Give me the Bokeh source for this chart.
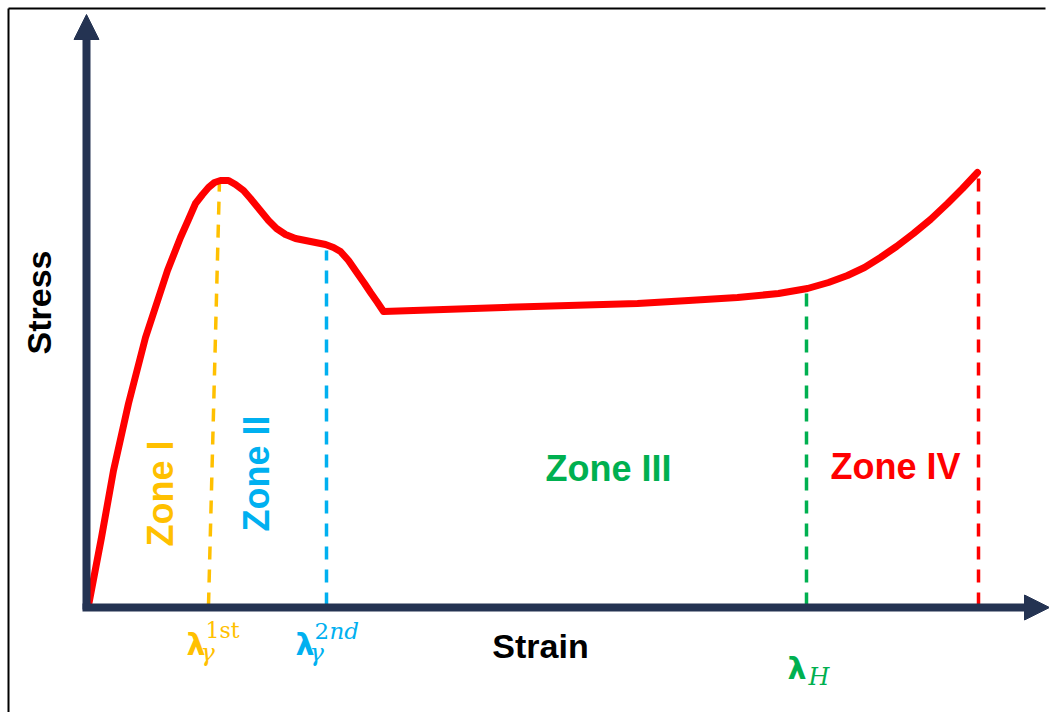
from bokeh.plotting import figure
from bokeh.models import Range1d, Arrow, NormalHead, ColumnDataSource
from bokeh.core.properties import value
from bokeh.embed import file_html
from bokeh.resources import INLINE
import math

# Schematic stress-strain curve (arbitrary units)
strain = [0, 13, 25, 40, 57, 79, 92, 100, 107, 114, 120, 126, 132,
          140, 147, 155, 162, 171, 180, 188, 197, 207, 217, 227, 237, 245, 252,
          260, 269, 276, 282, 289, 295,
          355, 415, 480, 549, 600, 649, 690, 719, 740, 759, 776, 792, 808, 825,
          842, 859, 874, 889]
stress = [0, 68, 135, 202, 268, 335, 368, 386, 402, 411, 418, 423, 425,
          425, 421, 415, 407, 396, 385, 377, 371, 367, 365, 363, 361, 358, 354,
          345, 332, 322, 313, 303, 294,
          296, 298, 300, 302, 305, 308, 312, 317, 323, 330, 338, 348, 359, 372,
          386, 402, 417, 433]

# Characteristic strains marking the zone boundaries
lam_strain = [120, 238, 718, 890]
lam_top_strain = [131, 238, 718, 890]
lam_stress = [425, 355, 316, 430]
lam_colors = ["#FFC000", "#00B0F0", "#00B050", "#FF0000"]

zone_names = ["Zone I", "Zone II", "Zone III", "Zone IV"]
zone_x = [72, 168, 520, 807]
zone_y = [112, 132, 137, 139]
zone_angle = [math.pi / 2, math.pi / 2, 0, 0]

AXIS = "#243352"

p = figure(width=1049, height=712, output_backend="svg", toolbar_location=None,
           x_range=Range1d(-88, 961), y_range=Range1d(-107, 605), min_border=0)
p.axis.visible = False
p.grid.visible = False
p.outline_line_color = None
p.background_fill_color = "white"
p.border_fill_color = "white"

# outer frame
p.line([-80, -80], [-110, 597], line_color="black", line_width=2)
p.line([-80, 957], [597, 597], line_color="black", line_width=2)

# vertical dashed markers
for xs0, xs1, ys, c in zip(lam_strain, lam_top_strain, lam_stress, lam_colors):
    p.line([xs0, xs1], [0, ys], line_color=c, line_width=3.5, line_dash="13 10")

# axes with arrow heads
p.add_layout(Arrow(end=NormalHead(size=25, fill_color=AXIS, line_color=AXIS),
                   x_start=-2, y_start=-4, x_end=-2, y_end=591,
                   line_color=AXIS, line_width=8))
p.add_layout(Arrow(end=NormalHead(size=25, fill_color=AXIS, line_color=AXIS),
                   x_start=-6, y_start=-2, x_end=961, y_end=-2,
                   line_color=AXIS, line_width=8))

# stress-strain curve
p.line(strain, stress, line_color="#FF0000", line_width=7, line_join="round", line_cap="round")

# zone labels
src = ColumnDataSource(dict(x=zone_x, y=zone_y, t=zone_names, c=lam_colors, a=zone_angle))
p.text("x", "y", text="t", angle="a", source=src, text_color="c",
       text_font=value("Liberation Sans"), text_font_style="bold",
       text_font_size="36px", text_align="center", text_baseline="middle")

# axis titles
p.text([-50], [303], text=["Stress"], angle=math.pi / 2, text_font=value("Liberation Sans"),
       text_font_style="bold", text_font_size="34px", text_align="center",
       text_baseline="middle", text_color="black")
p.text([452], [-40], text=["Strain"], text_font=value("Liberation Sans"),
       text_font_style="bold", text_font_size="34px", text_align="center",
       text_baseline="middle", text_color="black")

# lambda markers: symbol right edge, baseline, subscript, superscript
lam_lx = [117, 226, 718]
lam_ly = [-39, -39, -63]
lam_sub = ["γ", "γ", "H"]
lam_sub_dx = [-5, -5, 2]
for lx, ly, sub, sdx, c in zip(lam_lx, lam_ly, lam_sub, lam_sub_dx, lam_colors[:3]):
    p.text([lx], [ly], text=["λ"], text_font=value("DejaVu Sans"), text_font_style="bold",
           text_font_size="30px", text_align="right", text_baseline="alphabetic", text_color=c)
    p.text([lx + sdx], [ly - 8], text=[sub], text_font=value("DejaVu Serif"),
           text_font_style="italic", text_font_size="24px", text_align="left",
           text_baseline="alphabetic", text_color=c)
p.text([lam_lx[0]], [-25], text=["1st"], text_font=value("DejaVu Serif"),
       text_font_size="22px", text_align="left", text_baseline="alphabetic", text_color=lam_colors[0])
p.text([lam_lx[1]], [-25], text=["2"], text_font=value("DejaVu Serif"),
       text_font_size="23px", text_align="left", text_baseline="alphabetic", text_color=lam_colors[1])
p.text([lam_lx[1] + 15], [-25], text=["nd"], text_font=value("DejaVu Serif"),
       text_font_style="italic", text_font_size="23px", text_align="left",
       text_baseline="alphabetic", text_color=lam_colors[1])

open("out.html", "w").write(file_html(p, INLINE))
